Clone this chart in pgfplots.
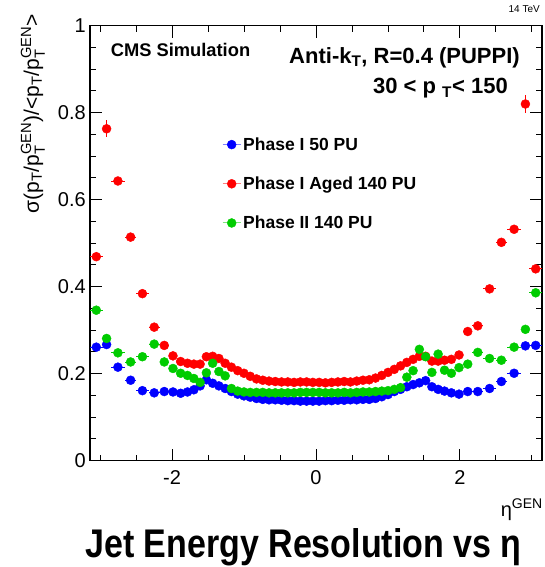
\documentclass[border=0pt]{standalone}
\usepackage{fontspec}
\setmainfont{Liberation Sans}
\usepackage{amsmath}
\usepackage{graphicx}
\usepackage{pgfplots}
\pgfplotsset{compat=1.18}
\usepackage{pgfplotstable}

\definecolor{cblue}{rgb}{0,0,1}
\definecolor{cred}{rgb}{1,0,0}
\definecolor{cgreen}{rgb}{0,0.8,0}

\pgfplotstableread{
x ex b r re g
-3.0515 0.0875 0.261 0.469 0.010 0.346
-2.9085 0.0555 0.267 0.763 0.020 0.281
-2.7515 0.1015 0.215 0.643 0.008 0.248
-2.575 0.075 0.185 0.514 0.006 0.227
-2.411 0.089 0.161 0.384 0.004 0.239
-2.247 0.075 0.156 0.307 0.003 0.268
-2.1075 0.0645 0.159 0.265 0.002 0.227
-1.9865 0.0565 0.158 0.241 0.002 0.212
-1.88 0.05 0.155 0.228 0.002 0.201
-1.785 0.045 0.158 0.224 0.002 0.196
-1.6965 0.0435 0.163 0.222 0.002 0.189
-1.6095 0.0435 0.172 0.222 0.002 0.180
-1.5225 0.0435 0.186 0.239 0.002 0.202
-1.4355 0.0435 0.178 0.240 0.002 0.224
-1.3485 0.0435 0.172 0.235 0.002 0.205
-1.2615 0.0435 0.166 0.224 0.002 0.195
-1.1745 0.0435 0.159 0.215 0.002 0.166
-1.0875 0.0435 0.153 0.207 0.002 0.160
-1.0005 0.0435 0.149 0.201 0.002 0.158
-0.9135 0.0435 0.146 0.194 0.002 0.157
-0.8265 0.0435 0.143 0.188 0.002 0.157
-0.7395 0.0435 0.141 0.185 0.002 0.157
-0.6525 0.0435 0.140 0.183 0.002 0.156
-0.5655 0.0435 0.140 0.182 0.002 0.156
-0.4785 0.0435 0.139 0.181 0.002 0.156
-0.3915 0.0435 0.138 0.181 0.002 0.156
-0.3045 0.0435 0.138 0.180 0.002 0.156
-0.2175 0.0435 0.137 0.181 0.002 0.157
-0.1305 0.0435 0.137 0.181 0.002 0.157
-0.0435 0.0435 0.137 0.180 0.002 0.157
0.0435 0.0435 0.137 0.180 0.002 0.157
0.1305 0.0435 0.138 0.179 0.002 0.156
0.2175 0.0435 0.138 0.180 0.002 0.156
0.3045 0.0435 0.139 0.181 0.002 0.156
0.3915 0.0435 0.139 0.182 0.002 0.157
0.4785 0.0435 0.140 0.181 0.002 0.156
0.5655 0.0435 0.140 0.183 0.002 0.157
0.6525 0.0435 0.141 0.185 0.002 0.158
0.7395 0.0435 0.141 0.186 0.002 0.158
0.8265 0.0435 0.143 0.190 0.002 0.159
0.9135 0.0435 0.147 0.196 0.002 0.160
1.0005 0.0435 0.152 0.203 0.002 0.161
1.0875 0.0435 0.159 0.210 0.002 0.164
1.1745 0.0435 0.164 0.218 0.002 0.168
1.2615 0.0435 0.170 0.226 0.002 0.192
1.3485 0.0435 0.175 0.233 0.002 0.207
1.4355 0.0435 0.179 0.240 0.002 0.256
1.5225 0.0435 0.184 0.240 0.002 0.239
1.6095 0.0435 0.170 0.229 0.002 0.203
1.6965 0.0435 0.164 0.229 0.002 0.245
1.785 0.045 0.160 0.231 0.002 0.208
1.88 0.05 0.156 0.233 0.002 0.201
1.9865 0.0565 0.153 0.243 0.002 0.214
2.1075 0.0645 0.159 0.297 0.003 0.222
2.247 0.075 0.159 0.310 0.003 0.249
2.411 0.089 0.166 0.395 0.004 0.235
2.575 0.075 0.182 0.502 0.006 0.231
2.7515 0.1015 0.201 0.532 0.008 0.261
2.9085 0.0555 0.264 0.820 0.020 0.302
3.0515 0.0875 0.265 0.441 0.010 0.386
}\datatable

\begin{document}
\begin{tikzpicture}
\useasboundingbox (-90pt,-106.3pt) rectangle (454pt,460.7pt);
\begin{axis}[
  at={(0pt,0pt)}, anchor=south west,
  scale only axis, width=452pt, height=435pt,
  xmin=-3.139, xmax=3.139, ymin=0, ymax=1,
  xtick={-2,0,2}, xticklabels={-2,0,2},
  minor xtick={-3,-2.5,-1.5,-1,-0.5,0.5,1,1.5,2.5,3},
  ytick={0,0.2,0.4,0.6,0.8,1}, yticklabels={0,0.2,0.4,0.6,0.8,1},
  minor ytick={0.05,0.1,0.15,0.25,0.3,0.35,0.45,0.5,0.55,0.65,0.7,0.75,0.85,0.9,0.95},
  tick align=inside, major tick length=12pt, minor tick length=6pt,
  axis line style={line width=1.2pt},
  every tick/.style={line width=1pt, black},
  ticklabel style={font=\fontsize{20}{22}\selectfont, inner sep=0pt},
  xticklabel style={yshift=-10pt},
  yticklabel style={xshift=-4pt},
  legend style={at={(0.292,0.748)}, anchor=north west, draw=none, fill=none,
    font=\bfseries\fontsize{17.5}{19}\selectfont, row sep=21pt, inner sep=0pt},
  legend cell align=left,
  legend image code/.code={
    \draw[#1, mark=none, only marks=false, line width=1pt, opacity=0.5] (0pt,0pt) -- (18pt,0pt);
    \draw[#1] plot coordinates {(9pt,0pt)};
  },
  error bars/error bar style={line width=0.8pt},
  error bars/error mark=none,
]
\addplot[only marks, mark=*, mark size=4.5pt, color=cblue,
  error bars/.cd, x dir=both, x explicit]
  table[x=x, y=b, x error=ex] {\datatable};
\addlegendentry{Phase I 50 PU}
\addplot[only marks, mark=*, mark size=4.5pt, color=cred,
  error bars/.cd, x dir=both, x explicit, y dir=both, y explicit]
  table[x=x, y=r, x error=ex, y error=re] {\datatable};
\addlegendentry{Phase I Aged 140 PU}
\addplot[only marks, mark=*, mark size=4.5pt, color=cgreen,
  error bars/.cd, x dir=both, x explicit]
  table[x=x, y=g, x error=ex] {\datatable};
\addlegendentry{Phase II 140 PU}
\end{axis}
% texts
\node[anchor=base west, inner sep=0pt, font=\bfseries\fontsize{18.3}{20}\selectfont] at (20.7pt,404pt) {CMS Simulation};
\node[anchor=base east, inner sep=0pt, font=\bfseries\fontsize{22}{24}\selectfont] at (430pt,397.4pt) {Anti-k$_{\text{T}}$, R=0.4 (PUPPI)};
\node[anchor=base east, inner sep=0pt, font=\bfseries\fontsize{22}{24}\selectfont] at (418pt,366.7pt) {30 < p\;$_{\text{T}}$< 150};
\node[anchor=base east, inner sep=0pt, font=\fontsize{10}{12}\selectfont] at (450pt,448pt) {14 TeV};
\node[rotate=90, anchor=south east, inner sep=0pt, font=\fontsize{21}{23}\selectfont] at (-45pt,447pt)
  {σ(p$_{\text{T}}$/p$_{\text{T}}^{\text{GEN}}$)/<p$_{\text{T}}$/p$_{\text{T}}^{\text{GEN}}$>};
\node[anchor=north east, inner sep=0pt, font=\fontsize{20}{22}\selectfont] at (453pt,-38pt) {η$^{\text{GEN}}$};
\node[anchor=base west, inner sep=0pt, font=\bfseries\fontsize{40}{44}\selectfont] at (-5pt,-96.3pt)
  {\scalebox{0.85}[1]{Jet Energy Resolution vs η}};
\end{tikzpicture}
\end{document}
